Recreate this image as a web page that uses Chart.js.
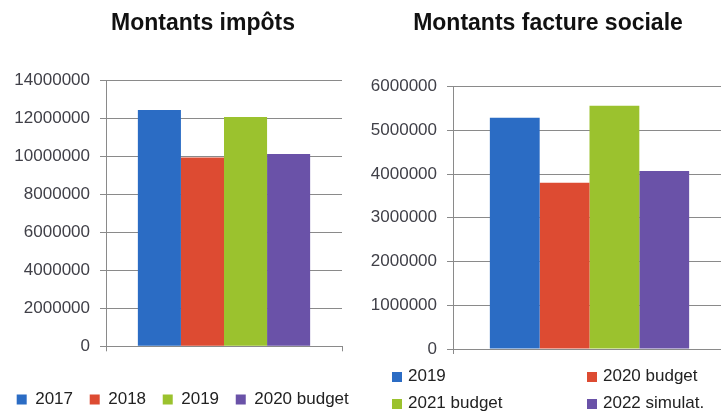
<!DOCTYPE html>
<html>
<head>
<meta charset="utf-8">
<script src="https://cdn.jsdelivr.net/npm/chart.js@4.4.1/dist/chart.umd.min.js"></script>
<style>
	html, body { margin: 0; padding: 0; background: #fff; overflow: hidden; width: 721px; height: 412px; }
	#c1 { position: absolute; left: 0; top: 0; }
	#c2 { position: absolute; left: 360px; top: 0; }
</style>
</head>
<body>
<canvas id="c1" width="406" height="418"></canvas>
<canvas id="c2" width="376" height="412"></canvas>
<script>
// data
const impotsLabels = ["2017", "2018", "2019", "2020 budget"];
const impotsValues = [12450000, 9950000, 12080000, 10130000];
const socialeLabels = ["2019", "2020 budget", "2021 budget", "2022 simulat."];
const socialeValues = [5290000, 3800000, 5560000, 4070000];
const barColors = ["#2b6cc4", "#dd4b32", "#9bc22e", "#6a52a8"];

const gridColor = "#8a8a8a";
const tickColor = "#404048";

function makeDatasets(labels, values) {
	return labels.map((l, i) => ({
		label: l,
		data: [values[i]],
		backgroundColor: barColors[i],
		borderWidth: 0,
		categoryPercentage: 0.73,
		barPercentage: 1
	}));
}

function makeScales(max, step, yWidth, xHeight, rightWidth) {
	return {
		x: {
			type: "category",
			offset: true,
			grid: { display: true, drawOnChartArea: false, drawTicks: true, tickLength: 5, offset: true, color: gridColor },
			border: { display: true, color: gridColor },
			ticks: { display: false },
			afterFit: (s) => { s.height = xHeight; }
		},
		y: {
			min: 0,
			max: max,
			ticks: {
				stepSize: step,
				color: tickColor,
				padding: 10,
				font: { family: "Liberation Sans", size: 17 },
				callback: (v) => String(v)
			},
			grid: { color: gridColor, tickLength: 6 },
			border: { display: true, color: gridColor },
			afterFit: (s) => { s.width = yWidth; }
		},
		y2: {
			position: "right",
			display: true,
			grid: { display: false },
			border: { display: false },
			ticks: { display: false },
			afterFit: (s) => { s.width = rightWidth; }
		}
	};
}

function titleOpts(text, bottom) {
	return {
		display: true,
		text: text,
		color: "#111",
		font: { family: "Liberation Sans", size: 23, weight: "bold" },
		padding: { top: 10, bottom: bottom }
	};
}

// left chart
new Chart(document.getElementById("c1"), {
	type: "bar",
	data: { labels: [""], datasets: makeDatasets(impotsLabels, impotsValues) },
	options: {
		responsive: false,
		animation: false,
		devicePixelRatio: 1,
		plugins: {
			title: titleOpts("Montants impôts", 43),
			tooltip: { enabled: false },
			legend: {
				display: true,
				position: "bottom",
				align: "start",
				labels: {
					boxWidth: 10,
					boxHeight: 10,
					padding: 16.7,
					color: "#222",
					font: { family: "Liberation Sans", size: 17 }
				}
			}
		},
		scales: makeScales(14000000, 2000000, 106, 28, 64)
	}
});

// grid legend for the right chart (2 columns)
const gridLegend = {
	id: "gridLegend",
	afterDraw(chart) {
		const ctx = chart.ctx;
		const cols = [32, 227];
		const rows = [376, 403];
		ctx.save();
		ctx.font = "17px 'Liberation Sans'";
		ctx.textBaseline = "middle";
		chart.data.datasets.forEach((ds, i) => {
			const x = cols[i % 2];
			const y = rows[Math.floor(i / 2)];
			ctx.fillStyle = ds.backgroundColor;
			ctx.fillRect(x, y - 4, 10, 10);
			ctx.fillStyle = "#222";
			ctx.fillText(ds.label, x + 16, y);
		});
		ctx.restore();
	}
};

// right chart
new Chart(document.getElementById("c2"), {
	type: "bar",
	data: { labels: [""], datasets: makeDatasets(socialeLabels, socialeValues) },
	options: {
		responsive: false,
		animation: false,
		devicePixelRatio: 1,
		plugins: {
			title: titleOpts("Montants facture sociale", 49),
			tooltip: { enabled: false },
			legend: { display: false }
		},
		scales: makeScales(6000000, 1000000, 93, 63, 10)
	},
	plugins: [gridLegend]
});
</script>
</body>
</html>
